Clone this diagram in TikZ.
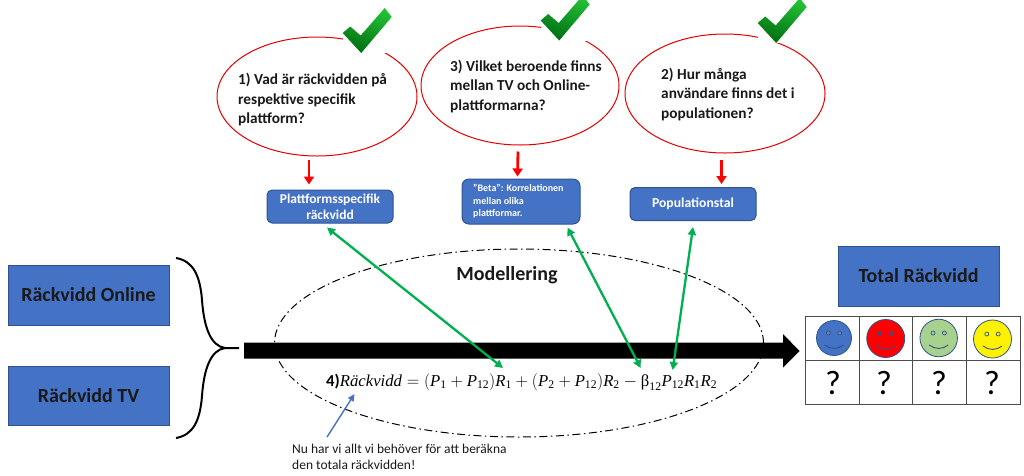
\documentclass[tikz,border=0pt]{standalone}
\usepackage{fontspec}
\usepackage{amsmath}
\setmainfont{Carlito}
\newfontfamily\eqfont{Liberation Serif}
\usetikzlibrary{shapes.geometric,arrows.meta,calc}
\definecolor{bluefill}{HTML}{4472C4}
\definecolor{blueedge}{HTML}{2F528F}
\definecolor{arrowgreen}{HTML}{00B050}
\definecolor{checklight}{HTML}{22C035}
\definecolor{checkdark}{HTML}{006E12}
\definecolor{facegreen}{HTML}{A9D18E}
\newcommand{\ev}[1]{\text{\eqfont\itshape #1}}
\newcommand{\en}[1]{\text{\eqfont #1}}
\tikzset{
  question/.style={ellipse,draw=red!90!black,line width=1pt,fill=none,inner sep=0pt},
  qtext/.style={anchor=north west,align=left,inner sep=0pt,font=\bfseries\fontsize{15.3}{19.7}\selectfont,text=black!90},
  roundbox/.style={rectangle,rounded corners=5pt,draw=blueedge,line width=1pt,fill=bluefill,text=white,inner sep=0pt},
  squarebox/.style={rectangle,draw=blueedge,line width=.8pt,fill=bluefill,inner sep=0pt,font=\bfseries\fontsize{20}{24}\selectfont,text=black!90},
  redarrow/.style={draw=red,line width=2.8pt,-{Triangle[length=8pt,width=10pt]}},
  greenarrow/.style={draw=arrowgreen,line width=2.3pt,{Triangle[length=8pt,width=8pt]}-{Triangle[length=8pt,width=8pt]}},
  bluearrow/.style={draw=bluefill,line width=1.4pt,-{Triangle[length=7pt,width=6.5pt]}},
  cell/.style={rectangle,draw=black!70,line width=.9pt,inner sep=0pt},
  smiley/.style={circle,draw=blueedge,line width=.8pt,inner sep=0pt},
}
\newcommand{\checkmk}[2]{%
  \begin{scope}[shift={(#1,#2)}]
    \fill[white] (0,-25) rectangle (50,20);
    \shade[top color=checklight,bottom color=checkdark,shading angle=-20]
      (0,0) -- (7.5,-6.5) -- (18,2.5) -- (42,-25) -- (49,-16) -- (18.5,20) -- cycle;
  \end{scope}}
\newcommand{\facedeco}[2]{%
  \filldraw[draw=blueedge,fill=#2,line width=.7pt] ($(#1.center)+(-5.7,-5)$) circle (2);
  \filldraw[draw=blueedge,fill=#2,line width=.7pt] ($(#1.center)+(5.7,-5)$) circle (2);
  \draw[blueedge,line width=.9pt] ($(#1.center)+(-9.5,7)$) .. controls ($(#1.center)+(-4,11.5)$) and ($(#1.center)+(4,11.5)$) .. ($(#1.center)+(9.5,7)$);}
\begin{document}
\begin{tikzpicture}[x=1pt,y=-1pt]
\useasboundingbox (0,0) rectangle (1024,475);
% questions
\node[question,minimum width=200pt,minimum height=119pt] (q1) at (317,96.5) {};
\node[question,minimum width=198pt,minimum height=119pt] (q2) at (520,85.5) {};
\node[question,minimum width=200pt,minimum height=119pt] (q3) at (725,93.5) {};
\checkmk{342.7}{33}
\checkmk{540.7}{20.5}
\checkmk{757.7}{23}
\node[qtext] (t1) at (238,73) {1) Vad är räckvidden på\\respektive specifik\\plattform?};
\node[qtext] (t2) at (450,59.5) {3) Vilket beroende finns\\mellan TV och Online-\\plattformarna?};
\node[qtext] (t3) at (661,67.5) {2) Hur många\\användare finns det i\\populationen?};
% boxes
\node[roundbox,minimum width=126pt,minimum height=33pt,font=\bfseries\fontsize{13.5}{16}\selectfont,align=center] (pf) at (330,206.5) {Plattformsspecifik\\räckvidd};
\node[roundbox,minimum width=118pt,minimum height=45pt,rounded corners=7pt] (beta) at (521,201.5) {};
\node[anchor=north west,inner sep=0pt,text=white,font=\bfseries\fontsize{10}{12.3}\selectfont,align=left] (betatext) at (473,184.5) {”Beta”: Korrelationen\\mellan olika\\plattformar.};
\node[roundbox,minimum width=126pt,minimum height=33pt,font=\bfseries\fontsize{13.7}{16}\selectfont] (pop) at (693,204) {Populationstal};
\draw[redarrow] ($(q1.south)+(-8,3)$) -- ($(pf.north)+(-21,-5)$);
\draw[redarrow] ($(q2.south)+(-2,6)$) -- ($(beta.north)+(-3.5,-2)$);
\draw[redarrow] ($(q3.south)+(-3.5,6)$) -- ($(pop.north)+(28.5,-3)$);
% left
\node[squarebox,minimum width=161pt,minimum height=60pt] (online) at (88.5,295) {Räckvidd Online};
\node[squarebox,minimum width=161pt,minimum height=59pt] (tv) at (88.5,395.5) {Räckvidd TV};
\coordinate (bracetip) at (239,348);
\draw[line width=2pt] (176,258) .. controls (193,261) and (200,275) .. (202,300)
   .. controls (204,328) and (211,346) .. (225,348) -- (bracetip)
   (225,348) .. controls (211,350) and (204,368) .. (202,396)
   .. controls (200,421) and (193,435) .. (176,438);
% modelling
\node[ellipse,draw=black,line width=1pt,dash pattern=on 8pt off 3.5pt on 1.5pt off 3.5pt,minimum width=489pt,minimum height=188pt,inner sep=0pt] (model) at (519,343) {};
\node[font=\bfseries\fontsize{20}{24}\selectfont,text=black!90] (modtext) at (507,275.5) {Modellering};
% big arrow
\fill[black] (244,342.5) -- (783,342.5) -- (783,334) -- (799.5,351) -- (783,367.5) -- (783,358.5) -- (244,358.5) -- cycle;
% equation
\node[anchor=base west,inner sep=0pt,font=\fontsize{16.7}{20}\selectfont] (eq) at (326,386) {\textbf{4)}$\ev{Räckvidd}=(\ev{P}_{\en{1}}+\ev{P}_{\en{12}})\ev{R}_{\en{1}}+(\ev{P}_{\en{2}}+\ev{P}_{\en{12}})\ev{R}_{\en{2}}-\en{β}_{\en{12}}\ev{P}_{\en{12}}\ev{R}_{\en{1}}\ev{R}_{\en{2}}$};
\coordinate (e1) at (503,368);
\coordinate (e2) at (640.7,368);
\coordinate (e3) at (672.7,370);
\coordinate (e4) at (354.5,394);
\draw[greenarrow] ($(pf.south)+(-3,4)$) -- (e1);
\draw[greenarrow] ($(beta.south east)+(-13,3)$) -- (e2);
\draw[greenarrow] ($(pop.south)+(0,6)$) -- (e3);
\node[anchor=north west,inner sep=0pt,align=left,font=\fontsize{13.5}{16}\selectfont,text=black!90] (note) at (292,444) {Nu har vi allt vi behöver för att beräkna\\den totala räckvidden!};
\draw[bluearrow] ($(note.north west)+(35,-7)$) -- (e4);
% right
\node[squarebox,minimum width=161pt,minimum height=60pt] (total) at (918.5,276) {Total Räckvidd};
\foreach \n/\cx/\w in {a/832/54,b/885.8/53.7,c/939.7/54,d/993.5/53.6}{
  \node[cell,minimum width=\w pt,minimum height=44.5pt] (c\n) at (\cx,338.2) {};
  \node[cell,minimum width=\w pt,minimum height=44pt] (d\n) at (\cx,382.5) {};
}
\node[smiley,fill=bluefill,minimum size=35pt] (f1) at (834,338) {};
\node[smiley,fill=red,minimum size=38pt] (f2) at (885.7,338.5) {};
\node[smiley,fill=facegreen,minimum size=37.5pt] (f3) at (938.7,338) {};
\node[smiley,fill=yellow,minimum size=38pt] (f4) at (992.5,339) {};
\facedeco{f1}{blueedge!70}\facedeco{f2}{blueedge!60!red}\facedeco{f3}{facegreen}\facedeco{f4}{yellow}
\foreach \cx/\n in {833/a,884/b,939/c,992/d}{
  \node[font=\fontsize{34}{34}\selectfont,inner sep=0pt] (q\n) at (\cx,383) {?};
}
\end{tikzpicture}
\end{document}
